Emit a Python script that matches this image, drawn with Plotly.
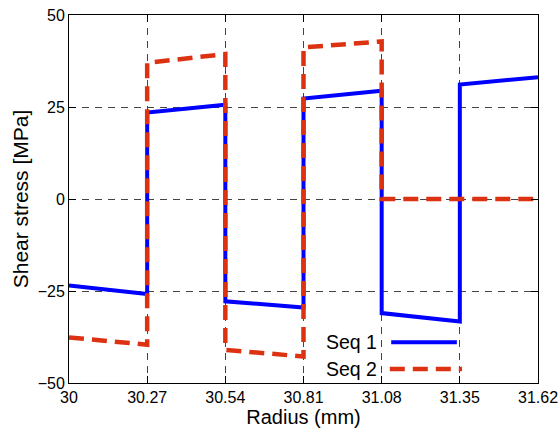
import plotly.graph_objects as go

# Data
radius_edges = [30.0, 30.27, 30.54, 30.81, 31.08, 31.35, 31.62]
seq1_start = [-23.5, 23.5, -27.8, 27.3, -31.0, 31.1]
seq1_end = [-25.8, 25.6, -29.5, 29.4, -33.3, 33.1]
seq2_start = [-37.6, 37.0, -41.0, 41.2, 0.0, 0.0]
seq2_end = [-39.6, 39.4, -42.8, 42.8, 0.0, 0.0]
x_ticks = [30, 30.27, 30.54, 30.81, 31.08, 31.35, 31.62]
x_tick_labels = ["30", "30.27", "30.54", "30.81", "31.08", "31.35", "31.62"]
y_ticks = [-50, -25, 0, 25, 50]
series_names = ["Seq 1", "Seq 2"]


def stepped(edges, starts, ends):
    xs, ys = [], []
    for i in range(len(starts)):
        xs += [edges[i], edges[i + 1]]
        ys += [starts[i], ends[i]]
    return xs, ys


x1, y1 = stepped(radius_edges, seq1_start, seq1_end)
x2, y2 = stepped(radius_edges, seq2_start, seq2_end)

BLUE = "#0000FF"
RED = "#DC3212"
FONT = "Liberation Sans, Arial, sans-serif"

fig = go.Figure()
fig.add_trace(go.Scatter(x=x1, y=y1, mode="lines", name=series_names[0],
                         line=dict(color=BLUE, width=4)))
fig.add_trace(go.Scatter(x=x2, y=y2, mode="lines", name=series_names[1],
                         line=dict(color=RED, width=4.5, dash="15px,8px")))

axis_common = dict(
    showline=True, linecolor="black", linewidth=1, mirror="ticks",
    ticks="inside", ticklen=7, tickcolor="black",
    showgrid=True, gridcolor="#444444", gridwidth=1, griddash="7px,6px",
    zeroline=False, tickfont=dict(family=FONT, size=16, color="black"),
    automargin=False,
)

fig.update_xaxes(range=[30, 31.62], tickvals=x_ticks, ticktext=x_tick_labels,
                 title=dict(text="Radius (mm)", font=dict(family=FONT, size=20, color="black"),
                            standoff=2),
                 **axis_common)
fig.update_yaxes(range=[-50, 50], tickvals=y_ticks,
                 title=dict(text="Shear stress [MPa]", font=dict(family=FONT, size=21, color="black"),
                            standoff=3),
                 **axis_common)

# Legend (text left of key, as in reference)
legend_items = [(series_names[0], BLUE, "solid", 4, 0.111, 0.687, 0.827),
                (series_names[1], RED, "15px,8px", 4.5, 0.038, 0.684, 0.838)]
for name, col, dash, w, yp, xa, xb in legend_items:
    fig.add_annotation(x=0.66, y=yp, xref="paper", yref="paper", text=name,
                       showarrow=False, xanchor="right", yanchor="middle",
                       font=dict(family=FONT, size=19.5, color="black"))
    fig.add_shape(type="line", xref="paper", yref="paper", x0=xa, x1=xb, y0=yp, y1=yp,
                  line=dict(color=col, width=w, dash=dash))

fig.update_layout(
    width=560, height=432,
    margin=dict(l=69, r=22, t=15, b=49),
    plot_bgcolor="white", paper_bgcolor="white",
    showlegend=False,
    font=dict(family=FONT, color="black"),
)

fig.write_html(
    "out.html",
    config={"displayModeBar": False},
    post_script="document.body.style.margin='0';document.body.style.overflow='hidden';",
)
